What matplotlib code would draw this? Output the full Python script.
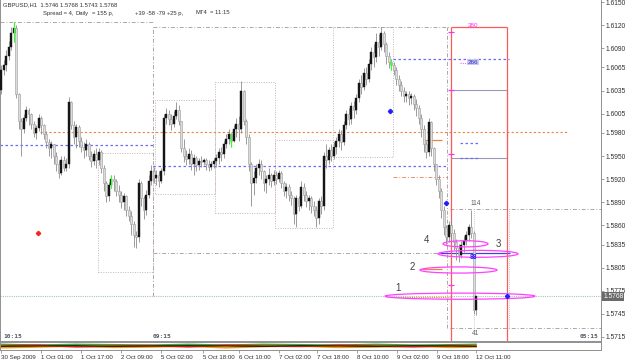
import numpy as np
import matplotlib
matplotlib.use("Agg")
import matplotlib.pyplot as plt
from matplotlib.patches import Rectangle, Ellipse

# %%
# GBPUSD H1 candles, 30 Sep 2009 09:00 .. 12 Oct 2009 11:00
first_open = 1.6036
closes = [1.6062, 1.6068, 1.6080, 1.6092, 1.6110, 1.6116, 1.6030, 1.5995, 1.5985, 1.6000,
          1.6010, 1.6004, 1.5992, 1.5980, 1.5986, 1.6000, 1.5990, 1.5978, 1.5968, 1.5960,
          1.5965, 1.5950, 1.5940, 1.5928, 1.5945, 1.5935, 1.5940, 1.6020, 1.5990, 1.5975,
          1.5988, 1.5970, 1.5962, 1.5958, 1.5966, 1.5950, 1.5944, 1.5952, 1.5945, 1.5955,
          1.5935, 1.5915, 1.5898, 1.5912, 1.5920, 1.5918, 1.5905, 1.5900, 1.5890, 1.5898,
          1.5880, 1.5872, 1.5862, 1.5848, 1.5845, 1.5915, 1.5895, 1.5880, 1.5900, 1.5918,
          1.5930, 1.5922, 1.5925, 1.5918, 1.5930, 1.6000, 1.6005, 1.5998, 1.5992, 1.6002,
          1.6010, 1.5995, 1.5960, 1.5950, 1.5946, 1.5952, 1.5940, 1.5948, 1.5938, 1.5944,
          1.5942, 1.5945, 1.5940, 1.5936, 1.5940, 1.5944, 1.5948, 1.5955, 1.5952, 1.5965,
          1.5972, 1.5978, 1.5970, 1.5985, 1.5992, 1.5985, 1.6035, 1.5995, 1.5975, 1.5940,
          1.5915, 1.5922, 1.5935, 1.5940, 1.5930, 1.5915, 1.5920, 1.5925, 1.5918, 1.5926,
          1.5920, 1.5928, 1.5915, 1.5905, 1.5910, 1.5900, 1.5895, 1.5875, 1.5895, 1.5885,
          1.5910, 1.5900, 1.5892, 1.5896, 1.5885, 1.5880, 1.5870, 1.5892, 1.5885, 1.5950,
          1.5945, 1.5958, 1.5950, 1.5962, 1.5970, 1.5978, 1.5968, 1.5990, 1.6005, 1.5998,
          1.6015, 1.6010, 1.6025, 1.6045, 1.6040, 1.6058, 1.6050, 1.6070, 1.6085, 1.6078,
          1.6098, 1.6092, 1.6110, 1.6095, 1.6080, 1.6072, 1.6068, 1.6062, 1.6050, 1.6042,
          1.6035, 1.6028, 1.6030, 1.6025, 1.6028, 1.6018, 1.6012, 1.6000, 1.5985, 1.5965,
          1.5955, 1.5994, 1.5960, 1.5940, 1.5920, 1.5905, 1.5880, 1.5858, 1.5845, 1.5860,
          1.5850, 1.5838, 1.5830, 1.5822, 1.5835, 1.5840, 1.5848, 1.5858, 1.5850, 1.5750,
          1.5768]
highs = [1.6068, 1.6075, 1.6088, 1.6100, 1.6117, 1.6124, 1.6120, 1.6032, 1.6000, 1.6005,
         1.6015, 1.6012, 1.6006, 1.5995, 1.5990, 1.6005, 1.6002, 1.5992, 1.5982, 1.5972,
         1.5970, 1.5966, 1.5955, 1.5945, 1.5950, 1.5950, 1.5948, 1.6026, 1.6022, 1.5995,
         1.5992, 1.5990, 1.5975, 1.5968, 1.5972, 1.5968, 1.5956, 1.5958, 1.5960, 1.5960,
         1.5958, 1.5938, 1.5918, 1.5916, 1.5925, 1.5925, 1.5920, 1.5912, 1.5905, 1.5902,
         1.5900, 1.5885, 1.5878, 1.5866, 1.5852, 1.5920, 1.5918, 1.5898, 1.5906, 1.5925,
         1.5938, 1.5936, 1.5932, 1.5930, 1.5935, 1.6005, 1.6012, 1.6010, 1.6004, 1.6008,
         1.6020, 1.6016, 1.5996, 1.5972, 1.5958, 1.5960, 1.5958, 1.5952, 1.5950, 1.5948,
         1.5950, 1.5948, 1.5948, 1.5945, 1.5944, 1.5948, 1.5952, 1.5960, 1.5962, 1.5970,
         1.5978, 1.5985, 1.5980, 1.5990, 1.6000, 1.6002, 1.6047, 1.6036, 1.5998, 1.5978,
         1.5942, 1.5930, 1.5940, 1.5946, 1.5945, 1.5932, 1.5925, 1.5934, 1.5928, 1.5932,
         1.5930, 1.5932, 1.5930, 1.5918, 1.5915, 1.5914, 1.5905, 1.5898, 1.5900, 1.5898,
         1.5918, 1.5915, 1.5905, 1.5900, 1.5898, 1.5892, 1.5885, 1.5896, 1.5898, 1.5955,
         1.5965, 1.5962, 1.5966, 1.5968, 1.5975, 1.5985, 1.5984, 1.5996, 1.6010, 1.6012,
         1.6020, 1.6022, 1.6030, 1.6050, 1.6055, 1.6064, 1.6066, 1.6076, 1.6092, 1.6095,
         1.6110, 1.6108, 1.6118, 1.6112, 1.6098, 1.6085, 1.6076, 1.6072, 1.6066, 1.6055,
         1.6048, 1.6040, 1.6035, 1.6034, 1.6032, 1.6030, 1.6024, 1.6016, 1.6005, 1.5990,
         1.5970, 1.6000, 1.5996, 1.5962, 1.5940, 1.5925, 1.5908, 1.5885, 1.5860, 1.5866,
         1.5870, 1.5855, 1.5842, 1.5836, 1.5840, 1.5846, 1.5852, 1.5862, 1.5880, 1.5852,
         1.5768]
lows = [1.6030, 1.6055, 1.6060, 1.6075, 1.6088, 1.6098, 1.6025, 1.5985, 1.5950, 1.5980,
        1.5995, 1.5990, 1.5985, 1.5975, 1.5972, 1.5982, 1.5978, 1.5972, 1.5960, 1.5950,
        1.5948, 1.5940, 1.5930, 1.5922, 1.5925, 1.5930, 1.5930, 1.5935, 1.5985, 1.5965,
        1.5960, 1.5962, 1.5955, 1.5948, 1.5950, 1.5945, 1.5936, 1.5938, 1.5935, 1.5938,
        1.5928, 1.5905, 1.5890, 1.5892, 1.5908, 1.5905, 1.5898, 1.5890, 1.5882, 1.5880,
        1.5872, 1.5865, 1.5848, 1.5832, 1.5830, 1.5838, 1.5885, 1.5868, 1.5874, 1.5895,
        1.5912, 1.5915, 1.5912, 1.5910, 1.5915, 1.5926, 1.5992, 1.5990, 1.5984, 1.5988,
        1.5998, 1.5990, 1.5955, 1.5942, 1.5938, 1.5940, 1.5932, 1.5926, 1.5930, 1.5932,
        1.5936, 1.5938, 1.5932, 1.5930, 1.5932, 1.5934, 1.5936, 1.5940, 1.5944, 1.5948,
        1.5960, 1.5966, 1.5962, 1.5968, 1.5975, 1.5970, 1.5980, 1.5990, 1.5965, 1.5930,
        1.5885, 1.5900, 1.5915, 1.5925, 1.5920, 1.5905, 1.5902, 1.5912, 1.5910, 1.5912,
        1.5914, 1.5916, 1.5908, 1.5898, 1.5895, 1.5892, 1.5886, 1.5862, 1.5858, 1.5878,
        1.5882, 1.5892, 1.5884, 1.5880, 1.5876, 1.5872, 1.5858, 1.5862, 1.5875, 1.5880,
        1.5935, 1.5940, 1.5944, 1.5946, 1.5952, 1.5962, 1.5958, 1.5964, 1.5985, 1.5990,
        1.5992, 1.6000, 1.6005, 1.6020, 1.6030, 1.6036, 1.6042, 1.6046, 1.6062, 1.6066,
        1.6072, 1.6080, 1.6088, 1.6085, 1.6070, 1.6064, 1.6062, 1.6055, 1.6042, 1.6035,
        1.6028, 1.6020, 1.6020, 1.6016, 1.6018, 1.6010, 1.6002, 1.5992, 1.5975, 1.5955,
        1.5948, 1.5950, 1.5950, 1.5930, 1.5912, 1.5895, 1.5870, 1.5848, 1.5835, 1.5838,
        1.5838, 1.5828, 1.5815, 1.5812, 1.5818, 1.5826, 1.5834, 1.5840, 1.5844, 1.5745,
        1.5743]
green_bars = [5, 44, 92, 156]

price_ticks = [1.6150, 1.6120, 1.6090, 1.6065, 1.6035, 1.6005, 1.5980, 1.5950,
               1.5920, 1.5890, 1.5860, 1.5835, 1.5805, 1.5775, 1.5745, 1.5715]
current_price = 1.5768
time_tick_bars = [0, 16, 32, 48, 64, 80.8, 95.2, 111.2, 126.4, 142.4, 158.4, 174.4, 190]
time_tick_labels = ["30 Sep 2009", "1 Oct 01:00", "1 Oct 17:00", "2 Oct 09:00", "5 Oct 02:00",
                    "5 Oct 18:00", "6 Oct 10:00", "7 Oct 02:00", "7 Oct 18:00", "8 Oct 10:00",
                    "9 Oct 02:00", "9 Oct 18:00", "12 Oct 11:00"]

# daily range boxes (bar index / price)
box_left = [38.8, 61.6, 85.6, 109.6, 132.8]
box_right = [60.8, 85.6, 109.6, 132.8, 156.8]
box_top = [1.5954, 1.6023, 1.6046, 1.5971, 1.6118]
box_bottom = [1.5799, 1.5901, 1.5876, 1.5857, 1.5949]

# grey dash-dot levels
gray_level = [1.6124, 1.6118, 1.5824, 1.5881, 1.5727]
gray_from = [-0.4, 60.8, 60.8, 179.6, 179.6]
gray_to = [60.8, 179.6, 178.4, 240.0, 240.0]
gray_vbar = [60.8, 178.4]
gray_vtop = [1.6118, 1.6118]
gray_vbot = [1.5768, 1.5727]

# orange levels
orange_dash_level = [1.5981]
orange_dash_from = [15.6]
orange_dash_to = [226.8]
orange_dd_level = [1.5923]
orange_dd_from = [156.8]
orange_dd_to = [178.4]
orange_solid_level = [1.5971, 1.5803]
orange_solid_from = [168.8, 168.4]
orange_solid_to = [176.4, 176.4]
orange_dot_level = [1.5767]
orange_dot_from = [154.4]
orange_dot_to = [179.6]

# blue levels
blue_dash_level = [1.5964, 1.5937, 1.6076, 1.5967, 1.5947]
blue_dash_from = [-0.4, 60.8, 156.8, 183.6, 183.6]
blue_dash_to = [60.8, 178.4, 203.2, 191.6, 191.6]
blue_solid_level = [1.5824]
blue_solid_from = [175.6]
blue_solid_to = [203.6]

# projection box
red_left, red_right, red_top = 180.0, 202.4, 1.6118
inner_top, inner_bottom = 1.6036, 1.5947
magenta_marks = [1.6111, 1.6036, 1.5953, 1.5783]

# ellipses: centre bar, centre price, width in bars, height in price
ell_x = [183.6, 183.0, 190.8, 185.8]
ell_y = [1.5768, 1.5802, 1.5823, 1.5836]
ell_w = [60.0, 30.8, 32.0, 18.0]
ell_h = [0.0008, 0.0008, 0.0009, 0.0008]
ell_names = ["1", "2", "3", "4"]
ell_name_x = [158.8, 164.4, 198.8, 170.4]
ell_name_y = [1.5779, 1.5806, 1.5836, 1.5841]

blue_marks_x = [155.6, 178.0, 202.4]
blue_marks_y = [1.6008, 1.5889, 1.5768]
red_marks_x = [14.8]
red_marks_y = [1.5850]

# indicator strip under the chart
strip_bars = [0, 15, 30, 45, 60, 75, 90, 105, 120, 135, 150, 165, 180, 190]
strip_red = [0.5, 0.6, 0.4, 0.5, 0.55, 0.4, 0.6, 0.5, 0.45, 0.6, 0.5, 0.4, 0.55, 0.5]
strip_orange = [0.3, 0.4, 0.5, 0.35, 0.4, 0.5, 0.3, 0.45, 0.5, 0.35, 0.4, 0.5, 0.35, 0.4]
strip_green = [0.7, 0.6, 0.7, 0.65, 0.6, 0.7, 0.6, 0.7, 0.65, 0.6, 0.7, 0.6, 0.65, 0.7]
strip_black = [0.45, 0.5, 0.55, 0.45, 0.5, 0.55, 0.5, 0.45, 0.55, 0.5, 0.45, 0.55, 0.5, 0.45]

# %%
plt.rcParams["font.family"] = ["Liberation Sans", "DejaVu Sans"]
W, H = 625, 361
fig = plt.figure(figsize=(W / 100, H / 100), dpi=100)
fig.patch.set_facecolor("white")
FS = 4.8
HS = 4.2
TXT = "#303030"


def ftext(x, y, s, **kw):
    fig.text(x / W, 1 - y / H, s, fontsize=kw.pop("fontsize", HS), color=kw.pop("color", TXT),
             va=kw.pop("va", "center"), **kw)


ax = fig.add_axes([0, 1 - 341 / H, 601 / W, 341 / H])
ax.set_xlim(-0.4, 240.0)
ax.set_ylim(1.57098, 1.61526)
ax.set_facecolor("white")

idx = np.arange(len(closes))
c = np.array(closes)
o = np.array([first_open] + closes[:-1])
hi = np.array(highs)
lo = np.array(lows)
bull = c >= o

# overlays first so candles sit on top
for l, r, t, b in zip(box_left, box_right, box_top, box_bottom):
    ax.add_patch(Rectangle((l, b), r - l, t - b, fill=False, ec="#c9b5b5", lw=0.7, ls=(0, (1, 1.5))))
ax.hlines(gray_level, gray_from, gray_to, colors="#b0a4a4", lw=0.7, linestyles=(0, (4, 2, 1, 2)))
ax.vlines(gray_vbar, gray_vbot, gray_vtop, colors="#b0a4a4", lw=0.7, linestyles=(0, (4, 2, 1, 2)))
ax.vlines([203.2, 189.0], 1.5727, 1.5881, colors="#b8b8b8", lw=0.6, linestyles=(0, (1, 1.5)))
ax.axhline(current_price, color="#a8c8a8", lw=0.8, ls=(0, (1, 1)))

ax.hlines(orange_dash_level, orange_dash_from, orange_dash_to, colors="#f08040", lw=0.8, linestyles=(0, (2, 2)))
ax.hlines(orange_dd_level, orange_dd_from, orange_dd_to, colors="#e89070", lw=0.7, linestyles=(0, (4, 2, 1, 2)))
ax.hlines(orange_solid_level, orange_solid_from, orange_solid_to, colors="#f08040", lw=0.9)
ax.hlines(orange_dot_level, orange_dot_from, orange_dot_to, colors="#f08040", lw=0.8, linestyles=(0, (1, 1)))
ax.hlines(blue_dash_level, blue_dash_from, blue_dash_to, colors="#6a6aff", lw=0.9, linestyles=(0, (2, 2)))
ax.hlines(blue_solid_level, blue_solid_from, blue_solid_to, colors="#4040e0", lw=0.9)

ax.add_patch(Rectangle((red_left, inner_bottom), red_right - red_left, inner_top - inner_bottom,
                       fill=False, ec="#9a9ab8", lw=0.8))
ax.vlines([red_left, red_right], 1.57098, red_top, colors="#ff5a5a", lw=0.9)
ax.hlines(red_top, red_left, red_right, colors="#ff5a5a", lw=0.9)
ax.hlines(magenta_marks, red_left - 1.2, red_left + 1.2, colors="#ff30ff", lw=0.9)
ax.hlines(1.6071, 183.6, 187.6, colors="#ff60ff", lw=0.8, linestyles=(0, (1, 1)))

# candles
ax.vlines(idx, lo, hi, colors="#8c8c8c", lw=0.6, zorder=3)
ax.bar(idx[~bull], (o - c)[~bull], bottom=c[~bull], width=0.8, color="#dcdcdc",
       edgecolor="#9a9a9a", lw=0.4, zorder=4)
ax.bar(idx[bull], np.maximum((c - o)[bull], 0.00005), bottom=o[bull], width=0.8, color="#151515",
       edgecolor="#151515", lw=0.3, zorder=4)
g = np.array(green_bars)
ax.vlines(g, lo[g], hi[g], colors="#30ff30", lw=0.9, zorder=5)

for x, y, w, h in zip(ell_x, ell_y, ell_w, ell_h):
    ax.add_patch(Ellipse((x, y), w, h, fill=False, ec="#ff40ff", lw=0.9, zorder=6))
for s, x, y in zip(ell_names, ell_name_x, ell_name_y):
    ax.text(x, y, s, fontsize=7, color="#404040", ha="center", va="center", zorder=7)

ax.plot(blue_marks_x, blue_marks_y, "D", color="#2020ff", ms=2.2, zorder=7)
ax.plot(red_marks_x, red_marks_y, "D", color="#ff2020", ms=2.2, zorder=7)

ax.text(188.8, 1.6119, "380", fontsize=4.5, color="#ff30ff", ha="center", va="center", zorder=7)
ax.text(188.8, 1.6072, "266", fontsize=4.5, color="#3030c0", ha="center", va="center", zorder=7,
        bbox=dict(boxstyle="square,pad=0.1", fc="#c8c8f0", ec="none"))
ax.text(190.0, 1.5884, "114", fontsize=4.8, color="#606060", ha="center", va="bottom", zorder=7)
ax.text(190.0, 1.5720, "41", fontsize=4.8, color="#606060", ha="center", va="center", zorder=7)
ax.text(189.2, 1.5818, "88", fontsize=4.8, color="#2020ff", ha="center", va="center",
        fontweight="bold", zorder=7)

# price axis
ax.yaxis.tick_right()
ax.set_yticks(price_ticks)
ax.set_yticklabels([f"{p:.4f}" for p in price_ticks])
ax.tick_params(axis="y", length=2, width=0.6, pad=1, labelsize=FS, colors="#909090", labelcolor=TXT)
ax.set_xticks([])
ax.spines["top"].set_visible(False)
for side in ["left", "right", "bottom"]:
    ax.spines[side].set_color("#909090")
    ax.spines[side].set_linewidth(0.7)
ax.annotate(f"{current_price:.4f}", xy=(1.0, current_price), xycoords=("axes fraction", "data"),
            xytext=(1.5, 0), textcoords="offset points", fontsize=FS, color="white", va="center",
            annotation_clip=False, zorder=10,
            bbox=dict(boxstyle="square,pad=0.15", fc="#6a6a6a", ec="none"))

# indicator strip + time axis
ax2 = fig.add_axes([0, 1 - 350 / H, 601 / W, 8 / H])
ax2.set_xlim(-0.4, 240.0)
ax2.set_ylim(0, 1)
ax2.plot(strip_bars, strip_green, color="#30b030", lw=1.2)
ax2.plot(strip_bars, strip_orange, color="#f0a000", lw=1.4)
ax2.plot(strip_bars, strip_red, color="#e02020", lw=1.2)
ax2.plot(strip_bars, strip_black, color="#202020", lw=0.8)
ax2.set_yticks([])
ax2.set_xticks(time_tick_bars)
ax2.set_xticklabels(time_tick_labels, ha="left")
ax2.tick_params(axis="x", length=2, width=0.6, pad=1.5, labelsize=4.4, colors="#909090", labelcolor=TXT)
for side in ["top", "left", "right", "bottom"]:
    ax2.spines[side].set_color("#909090")
    ax2.spines[side].set_linewidth(0.7)

# header text
ftext(3, 5, "GBPUSD,H1  1.5746 1.5768 1.5743 1.5768")
ftext(43, 13, "Spread = 4,")
ftext(76, 13, "Daily")
ftext(92, 13, "= 155 p,")
ftext(135, 13, "+39 -58 -79 +25 p,")
ftext(195, 13, "MT4")
ftext(210, 13, "= 11:15")

# session timers
ftext(3, 337, "10:15", family="DejaVu Sans Mono", fontweight="bold", color="#505868", fontsize=4.5)
ftext(153, 337, "09:15", family="DejaVu Sans Mono", fontweight="bold", color="#505868", fontsize=4.5)
ftext(598, 337, "05:15", family="DejaVu Sans Mono", fontweight="bold", color="#505868", fontsize=4.5,
      ha="right")

fig.savefig("out.png", dpi=100, facecolor="white")
